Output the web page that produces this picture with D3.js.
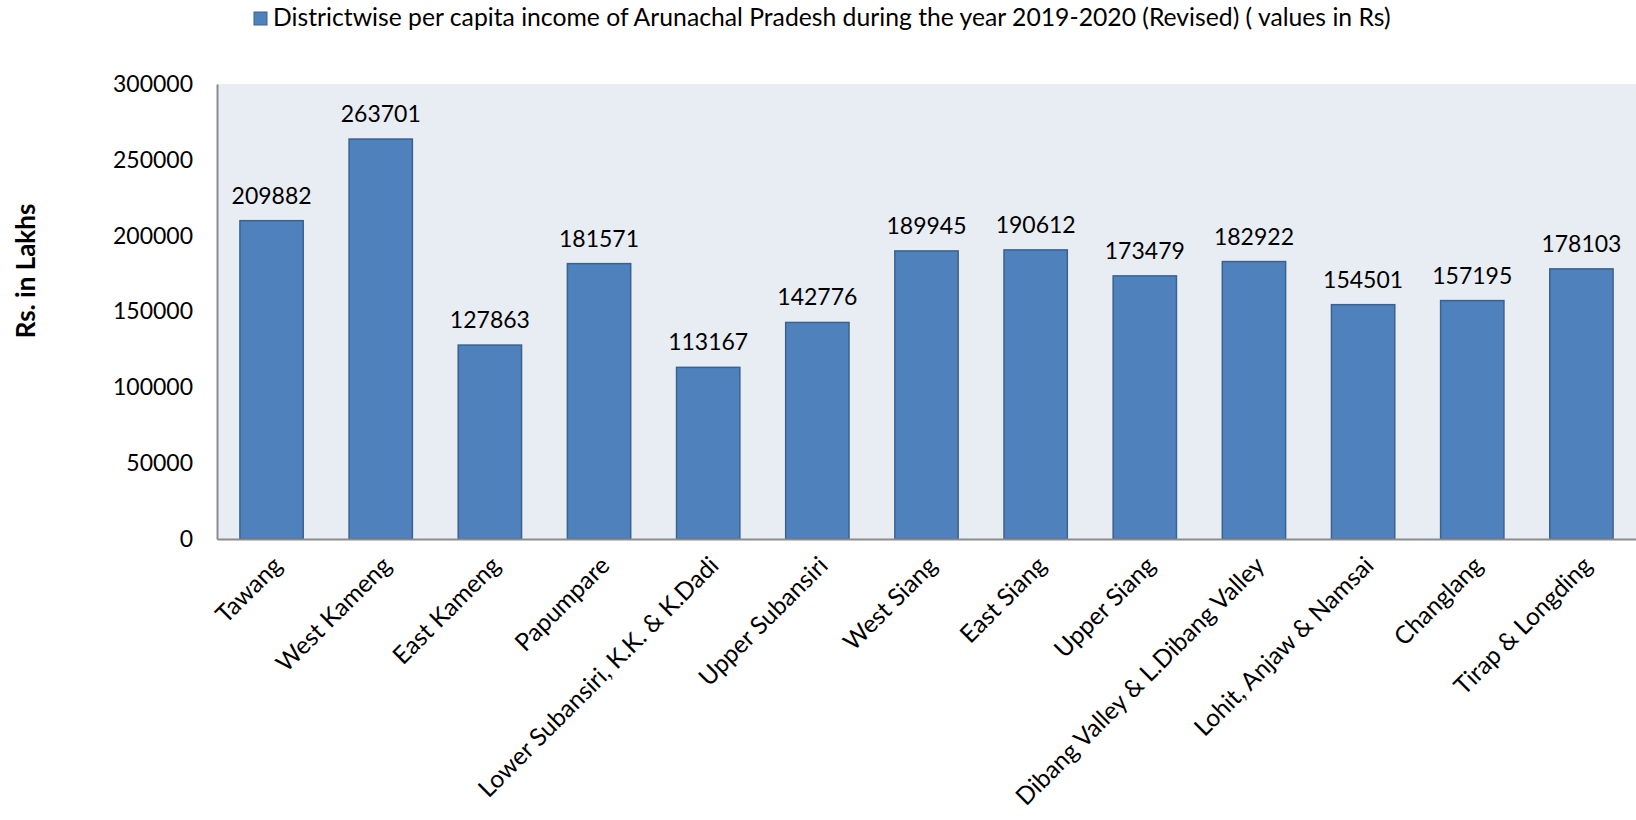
<!DOCTYPE html>
<html>
<head>
<meta charset="utf-8">
<script src="https://cdn.jsdelivr.net/npm/d3@7"></script>
<style>
  html, body { margin: 0; padding: 0; background: #ffffff; }
  svg { display: block; }
  text { font-family: Lato, "Open Sans", "Noto Sans", sans-serif; fill: #000; }
</style>
</head>
<body>
<svg id="chart" width="1636" height="820"></svg>
<script>
const categories = ["Tawang", "West Kameng", "East Kameng", "Papumpare",
  "Lower Subansiri, K.K. & K.Dadi", "Upper Subansiri", "West Siang", "East Siang",
  "Upper Siang", "Dibang Valley & L.Dibang Valley", "Lohit, Anjaw & Namsai",
  "Changlang", "Tirap & Longding"];
const values = [209882, 263701, 127863, 181571, 113167, 142776, 189945, 190612,
  173479, 182922, 154501, 157195, 178103];
const yTicks = [0, 50000, 100000, 150000, 200000, 250000, 300000];
const seriesName = "Districtwise per capita income of Arunachal Pradesh during the year 2019-2020 (Revised) ( values in Rs)";
const yTitle = "Rs. in Lakhs";

const W = 1636, H = 820;
const m = { left: 217, top: 84, right: 0, bottom: 281 };
const svg = d3.select("#chart");

const x = d3.scaleBand().domain(categories).range([m.left, W - m.right]).paddingInner(0.42).paddingOuter(0.21);
const y = d3.scaleLinear().domain([0, 300000]).range([H - m.bottom, m.top]);

// plot background
svg.append("rect")
  .attr("x", m.left).attr("y", m.top)
  .attr("width", W - m.right - m.left).attr("height", (H - m.bottom) - m.top)
  .attr("fill", "#E8ECF3");

// bars
svg.append("g").selectAll("rect").data(values).join("rect")
  .attr("x", (d, i) => x(categories[i]))
  .attr("y", d => y(d))
  .attr("width", x.bandwidth())
  .attr("height", d => y(0) - y(d))
  .attr("fill", "#4F81BD")
  .attr("stroke", "#3A6290")
  .attr("stroke-width", 1.5);

// data labels
svg.append("g").selectAll("text").data(values).join("text")
  .attr("x", (d, i) => x(categories[i]) + x.bandwidth() / 2)
  .attr("y", d => y(d) - 17)
  .attr("text-anchor", "middle")
  .style("font-size", "23px")
  .text(d => d);

// y axis
const yAxis = svg.append("g")
  .attr("transform", `translate(${m.left},0)`)
  .call(d3.axisLeft(y).tickValues(yTicks).tickSize(0).tickPadding(24).tickFormat(d3.format("d")));
yAxis.select(".domain").attr("stroke", "#8C8C8C").attr("stroke-width", 2);
yAxis.selectAll("text").style("font-size", "23px").attr("fill", "#000")
  .style("font-family", "Lato, 'Open Sans', sans-serif");

// x axis
const xAxis = svg.append("g")
  .attr("transform", `translate(0,${H - m.bottom})`)
  .call(d3.axisBottom(x).tickSize(0).tickPadding(0));
xAxis.select(".domain").attr("stroke", "#8C8C8C").attr("stroke-width", 2);
xAxis.selectAll("text")
  .style("font-size", "24.5px")
  .style("font-family", "Lato, 'Open Sans', sans-serif")
  .attr("fill", "#000")
  .attr("text-anchor", "end")
  .attr("dy", "0")
  .attr("y", 0)
  .attr("transform", "translate(12,28) rotate(-45)");

// y axis title
svg.append("text")
  .attr("transform", `translate(35,${271}) rotate(-90)`)
  .attr("text-anchor", "middle")
  .style("font-size", "26px")
  .style("font-weight", "bold")
  .text(yTitle);

// legend
const lg = svg.append("g");
lg.append("rect").attr("x", 254).attr("y", 12).attr("width", 13).attr("height", 13)
  .attr("fill", "#4F81BD").attr("stroke", "#3A6290").attr("stroke-width", 1);
const lt = lg.append("text").attr("x", 273).attr("y", 26)
  .style("font-size", "22px").text(seriesName);
const target = 1118;
const len = lt.node().getComputedTextLength();
lt.style("font-size", (22 * target / len).toFixed(2) + "px");
</script>
</body>
</html>
